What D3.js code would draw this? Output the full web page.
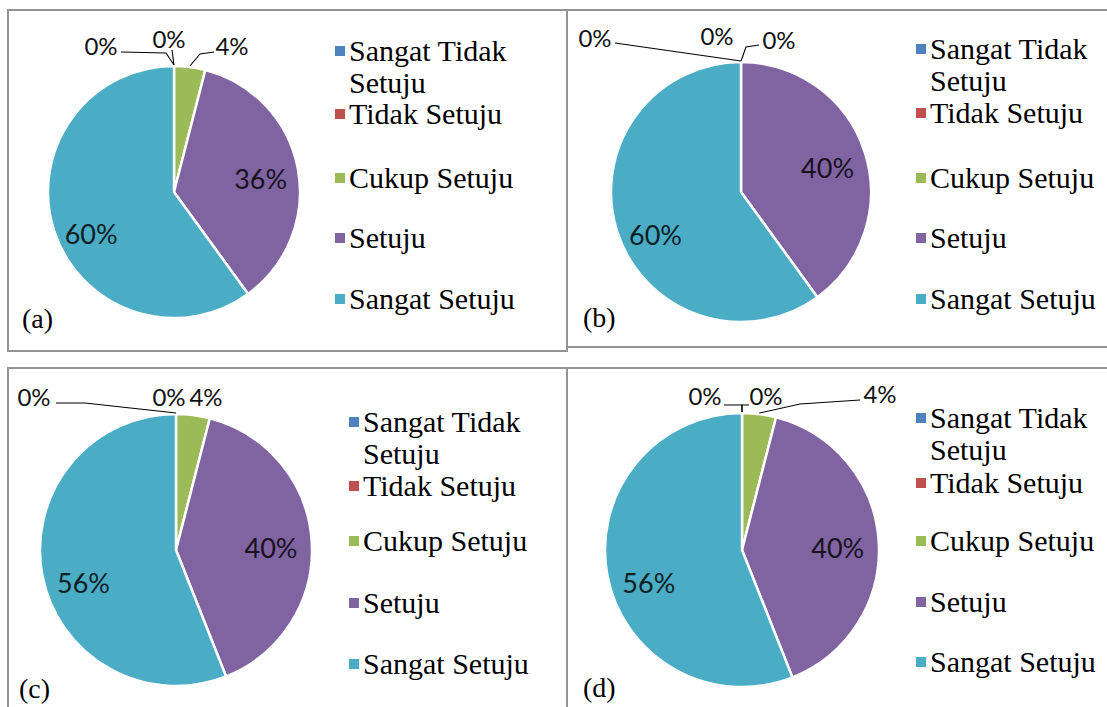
<!DOCTYPE html>
<html>
<head>
<meta charset="utf-8">
<script src="https://cdn.jsdelivr.net/npm/d3@7"></script>
<style>
  html, body { margin: 0; padding: 0; background: #fff; }
  svg { display: block; }
</style>
</head>
<body>
<svg id="chart" width="1107" height="707"></svg>
<script>
// Response categories (legend order, also slice order clockwise from 12 o'clock)
const categories = ["Sangat Tidak Setuju", "Tidak Setuju", "Cukup Setuju", "Setuju", "Sangat Setuju"];
const legendLines = [["Sangat Tidak", "Setuju"], ["Tidak Setuju"], ["Cukup Setuju"], ["Setuju"], ["Sangat Setuju"]];
const sliceColors = ["#4F81BD", "#C0504D", "#9BBB59", "#8064A2", "#4BACC6"];
const panelTags = ["(a)", "(b)", "(c)", "(d)"];

// Percentages per panel
const valuesA = [0, 0, 4, 36, 60];
const valuesB = [0, 0, 0, 40, 60];
const valuesC = [0, 0, 4, 40, 56];
const valuesD = [0, 0, 4, 40, 56];
const panelValues = [valuesA, valuesB, valuesC, valuesD];

// Panel geometry: frame, pie centre/radius, legend placement, tag and outside-label placement
const layout = [
  { box: [8, 10, 567, 351], cx: 174, cy: 192, r: 126,
    legendX: 335, rows: [51, 114, 178, 238, 299], tag: [22, 328],
    outside: {
      0: { tx: 101, ty: 46, pts: [[121, 52], [166, 53]] },
      1: { tx: 169, ty: 39, pts: [[172, 50]] },
      2: { tx: 232, ty: 46, pts: [[214, 52], [200, 54]] }
    } },
  { box: [567, 10, 1112, 347], cx: 741, cy: 192, r: 130,
    legendX: 916, rows: [49, 113, 178, 238, 299], tag: [583, 327],
    outside: {
      0: { tx: 595, ty: 38, pts: [[615, 43]] },
      1: { tx: 717, ty: 36, pts: null },
      2: { tx: 779, ty: 40, pts: [[759, 45], [746, 47]] }
    } },
  { box: [8, 368, 567, 712], cx: 176, cy: 550, r: 136,
    legendX: 349, rows: [422, 486, 541, 603, 664], tag: [19, 698],
    outside: {
      0: { tx: 34, ty: 397, pts: [[56, 403], [85, 403]] },
      1: { tx: 169, ty: 397, pts: null },
      2: { tx: 206, ty: 397, pts: null }
    } },
  { box: [567, 368, 1112, 712], cx: 742, cy: 550, r: 137,
    legendX: 916, rows: [418, 483, 541, 602, 662], tag: [583, 697],
    outside: {
      0: { tx: 705, ty: 396, pts: [[724, 405], [742, 405]] },
      1: { tx: 766, ty: 396, pts: [[749, 405], [742, 405]] },
      2: { tx: 880, ty: 394, pts: [[860, 400], [800, 404]] }
    } }
];

// label nudges for inside labels, by category index
const inNudge = { 3: [0, 4], 4: [1, 15] };

const svg = d3.select("#chart");
const serif = "'Liberation Serif', 'Times New Roman', serif";
const sans = "Lato, 'Open Sans', sans-serif";

const pie = d3.pie().sort(null).value(d => d);

panelValues.forEach((vals, p) => {
  const L = layout[p];
  const g = svg.append("g");

  // frame
  const [x0, y0, x1, y1] = L.box;
  g.append("rect")
    .attr("x", x0).attr("y", y0)
    .attr("width", x1 - x0).attr("height", y1 - y0)
    .attr("fill", "none").attr("stroke", "#949494").attr("stroke-width", 2);

  const arcs = pie(vals);
  const arc = d3.arc().innerRadius(0).outerRadius(L.r);
  const labelArc = d3.arc().innerRadius(L.r * 0.7).outerRadius(L.r * 0.7);

  const pg = g.append("g").attr("transform", `translate(${L.cx},${L.cy})`);

  // slices
  pg.selectAll("path.slice")
    .data(arcs.filter(d => d.value > 0))
    .join("path")
    .attr("class", "slice")
    .attr("d", arc)
    .attr("fill", d => sliceColors[d.index])
    .attr("stroke", "#fff")
    .attr("stroke-width", 2.5)
    .attr("stroke-linejoin", "round");

  // inside labels for the large slices
  pg.selectAll("text.inlabel")
    .data(arcs.filter(d => d.value >= 10))
    .join("text")
    .attr("class", "inlabel")
    .attr("transform", d => {
      const [x, y] = labelArc.centroid(d);
      const n = inNudge[d.index] || [0, 0];
      return `translate(${x + n[0]},${y + n[1]})`;
    })
    .attr("text-anchor", "middle")
    .attr("dy", "0.36em")
    .attr("font-family", sans)
    .attr("font-size", 27)
    .attr("fill", d => d3.interpolateRgb("#000", sliceColors[d.index])(0.18))
    .text(d => d.value + "%");

  // outside labels with leader lines for the small slices
  arcs.forEach(d => {
    const o = L.outside[d.index];
    if (!o) return;
    const mid = (d.startAngle + d.endAngle) / 2;
    const edge = [L.cx + Math.sin(mid) * (L.r + 1), L.cy - Math.cos(mid) * (L.r + 1)];
    if (o.pts) {
      g.append("path")
        .attr("d", d3.line()([...o.pts, edge]))
        .attr("fill", "none")
        .attr("stroke", "#000")
        .attr("stroke-width", 1.1);
    }
    g.append("text")
      .attr("x", o.tx).attr("y", o.ty)
      .attr("text-anchor", "middle")
      .attr("dy", "0.36em")
      .attr("font-family", sans)
      .attr("font-size", 24)
      .attr("fill", "#111")
      .text(d.value + "%");
  });

  // legend
  const lg = g.append("g");
  categories.forEach((c, i) => {
    const ry = L.rows[i];
    lg.append("rect")
      .attr("x", L.legendX).attr("y", ry - 5)
      .attr("width", 10).attr("height", 10)
      .attr("fill", sliceColors[i]);
    legendLines[i].forEach((line, k) => {
      lg.append("text")
        .attr("x", L.legendX + 14)
        .attr("y", ry + 10 + k * 32)
        .attr("font-family", serif)
        .attr("font-size", 30)
        .attr("fill", "#000")
        .text(line);
    });
  });

  // panel tag
  g.append("text")
    .attr("x", L.tag[0]).attr("y", L.tag[1])
    .attr("font-family", serif)
    .attr("font-size", 28)
    .attr("fill", "#000")
    .text(panelTags[p]);
});
</script>
</body>
</html>
